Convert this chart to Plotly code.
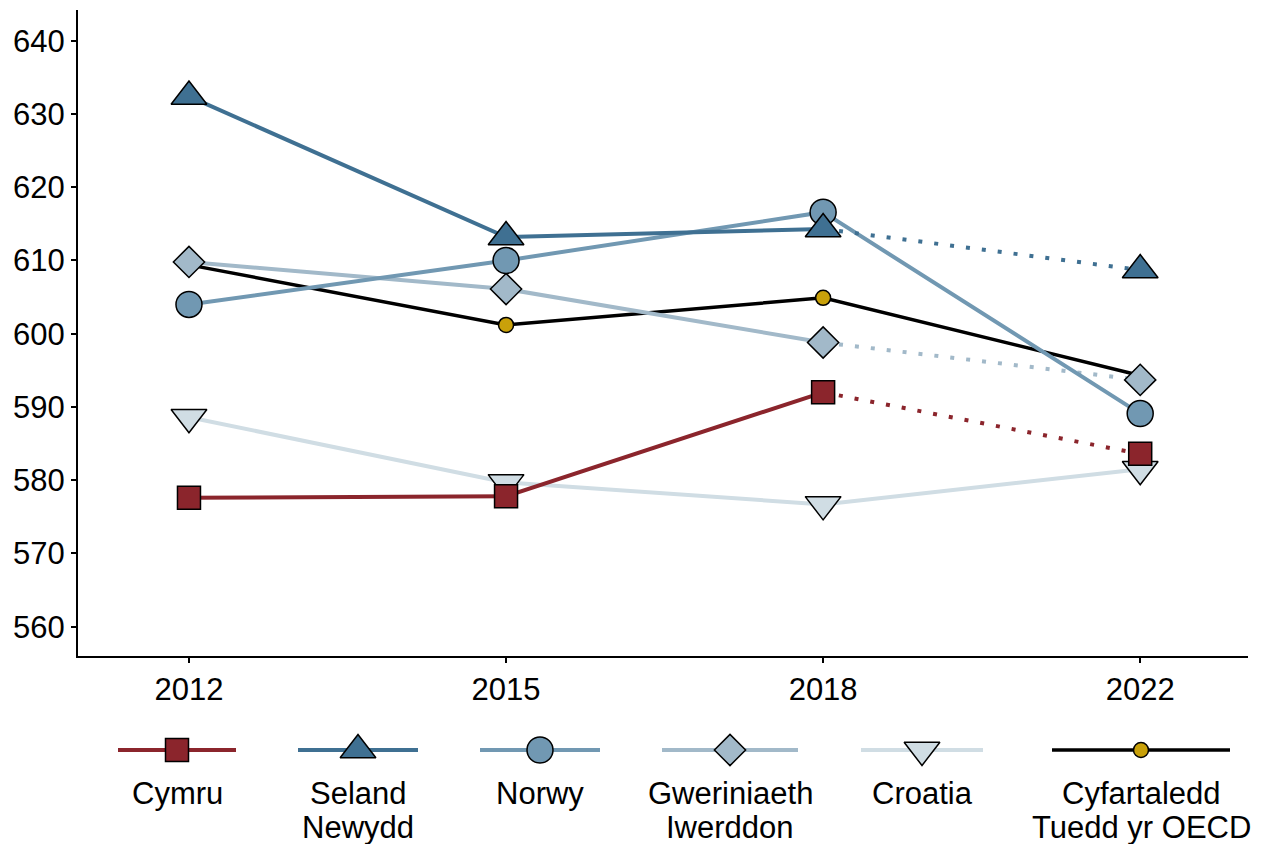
import plotly.graph_objects as go

years = ['2012', '2015', '2018', '2022']

names = ['Cymru', 'Seland Newydd', 'Norwy', 'Gweriniaeth Iwerddon', 'Croatia',
         'Cyfartaledd Tuedd yr OECD']
legend_labels = [['Cymru'], ['Seland', 'Newydd'], ['Norwy'], ['Gweriniaeth', 'Iwerddon'],
                 ['Croatia'], ['Cyfartaledd', 'Tuedd yr OECD']]

cymru = [577.6, 577.8, 592.0, 583.6]
seland_newydd = [632.4, 613.2, 614.3, 608.7]
norwy = [604.0, 610.0, 616.6, 589.1]
iwerddon = [609.8, 606.1, 598.8, 593.7]
croatia = [588.6, 579.7, 576.7, 581.5]
oecd = [609.4, 601.2, 604.9, 594.3]

# which series switch to a dotted line for 2018 -> 2022
dotted_last = [True, True, False, True, False, False]

series = [cymru, seland_newydd, norwy, iwerddon, croatia, oecd]
colors = ['#8b252c', '#3f7092', '#7198b2', '#a2b9c9', '#d0dde4', '#000000']
marker_fill = ['#8b252c', '#3f7092', '#7198b2', '#a2b9c9', '#d0dde4', '#c9a10a']
symbols = ['square', 'triangle-up', 'circle', 'diamond', 'triangle-down', 'circle']
sizes = [23, 31, 26, 24, 31, 15]
line_w = [4, 4, 4, 4, 4, 3.5]

fig = go.Figure()

# draw order: OECD first, Cymru last
order = [5, 4, 3, 2, 1, 0]
for i in order:
    vals = series[i]
    if dotted_last[i]:
        fig.add_trace(go.Scatter(x=years[:3], y=vals[:3], mode='lines',
                                 line=dict(color=colors[i], width=line_w[i]),
                                 showlegend=False, hoverinfo='skip'))
        fig.add_trace(go.Scatter(x=years[2:], y=vals[2:], mode='lines',
                                 line=dict(color=colors[i], width=line_w[i], dash='4px,12px'),
                                 showlegend=False, hoverinfo='skip'))
    else:
        fig.add_trace(go.Scatter(x=years, y=vals, mode='lines',
                                 line=dict(color=colors[i], width=line_w[i]),
                                 showlegend=False, hoverinfo='skip'))
for i in order:
    fig.add_trace(go.Scatter(x=years, y=series[i], mode='markers', name=names[i],
                             marker=dict(symbol=symbols[i], size=sizes[i], color=marker_fill[i],
                                         line=dict(color='black', width=1.5)),
                             showlegend=False))

# custom legend on a second pair of axes (units are page pixels)
leg_x = [177, 358, 540, 730, 922, 1141]
leg_half = [59, 60, 60, 68, 61, 89]
for i in range(6):
    fig.add_trace(go.Scatter(x=[leg_x[i] - leg_half[i], leg_x[i] + leg_half[i]], y=[0, 0],
                             mode='lines', line=dict(color=colors[i], width=line_w[i]),
                             xaxis='x2', yaxis='y2', showlegend=False, hoverinfo='skip'))
    fig.add_trace(go.Scatter(x=[leg_x[i]], y=[0], mode='markers',
                             marker=dict(symbol=symbols[i], size=sizes[i], color=marker_fill[i],
                                         line=dict(color='black', width=1.5)),
                             xaxis='x2', yaxis='y2', showlegend=False, hoverinfo='skip'))
    for k, line in enumerate(legend_labels[i]):
        fig.add_annotation(x=leg_x[i], y=-43 - 34 * k, xref='x2', yref='y2', text=line,
                           showarrow=False, yanchor='middle', xanchor='center',
                           font=dict(size=31, color='black'))

W, H = 1263, 844
OFF = 8  # page body margin
fig.update_layout(
    width=W, height=H,
    margin=dict(l=0, r=0, t=10 - OFF, b=0),
    paper_bgcolor='white', plot_bgcolor='white',
    font=dict(family='Liberation Sans, Arial, sans-serif', size=31, color='black'),
    xaxis=dict(domain=[(78 - OFF) / W, (1248 - OFF) / W], type='category', range=[-0.35, 3.34],
               showline=True, linecolor='black', linewidth=2, ticks='outside',
               ticklen=5, tickwidth=2, tickcolor='black', showgrid=False, zeroline=False,
               tickfont=dict(size=31)),
    yaxis=dict(domain=[(H - (656 - OFF)) / (H - 2), 1], range=[556, 644.2],
               tickvals=[560, 570, 580, 590, 600, 610, 620, 630, 640],
               showline=True, linecolor='black', linewidth=2, ticks='outside',
               ticklen=5, tickwidth=1.5, tickcolor='black', showgrid=False, zeroline=False,
               tickfont=dict(size=31)),
    xaxis2=dict(domain=[0, 1], range=[OFF, W + OFF], visible=False, fixedrange=True),
    yaxis2=dict(domain=[0, (H - (690 - OFF)) / (H - 2)], range=[-(H + OFF - 750), 750 - 690],
                visible=False, fixedrange=True, anchor='x2'),
)

fig.write_html('out.html')
